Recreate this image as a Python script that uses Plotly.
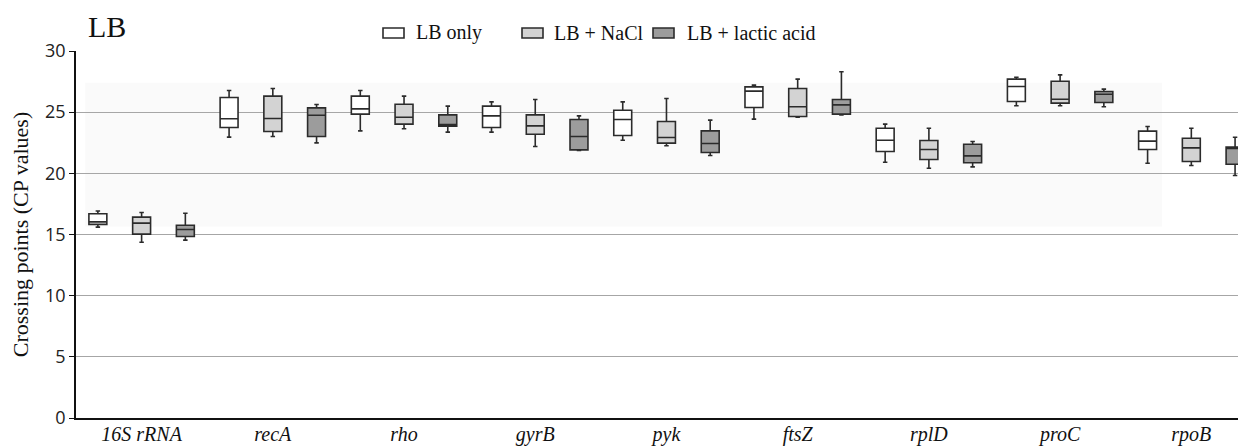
import plotly.graph_objects as go

categories = ["16S rRNA", "recA", "rho", "gyrB", "pyk", "ftsZ", "rplD", "proC", "rpoB"]
series_names = ["LB only", "LB + NaCl", "LB + lactic acid"]

lb_low = [15.6, 22.96, 23.47, 23.37, 22.71, 24.43, 20.91, 25.52, 20.83]
lb_q1 = [15.83, 23.75, 24.84, 23.75, 23.09, 25.38, 21.78, 25.87, 21.95]
lb_med = [16.03, 24.46, 25.27, 24.70, 24.40, 26.72, 22.71, 27.10, 22.63]
lb_q3 = [16.70, 26.20, 26.31, 25.49, 25.16, 27.07, 23.69, 27.70, 23.45]
lb_high = [16.92, 26.77, 26.77, 25.84, 25.84, 27.21, 24.02, 27.86, 23.83]

nacl_low = [14.37, 23.01, 23.64, 22.19, 22.25, 24.59, 20.42, 25.52, 20.64]
nacl_q1 = [15.03, 23.42, 24.02, 23.20, 22.47, 24.65, 21.13, 25.74, 20.97]
nacl_med = [15.93, 24.48, 24.59, 23.88, 22.93, 25.44, 21.95, 26.06, 22.08]
nacl_q3 = [16.42, 26.31, 25.65, 24.78, 24.24, 26.93, 22.68, 27.53, 22.87]
nacl_high = [16.80, 26.93, 26.31, 26.04, 26.12, 27.70, 23.69, 28.05, 23.69]

lac_low = [14.54, 22.49, 23.37, 21.87, 21.46, 24.78, 20.53, 25.44, 19.82]
lac_q1 = [14.84, 23.01, 23.85, 21.92, 21.70, 24.84, 20.86, 25.79, 20.74]
lac_med = [15.41, 24.75, 23.98, 23.01, 22.44, 25.60, 21.43, 26.47, 22.03]
lac_q3 = [15.76, 25.35, 24.78, 24.40, 23.47, 26.04, 22.38, 26.69, 22.15]
lac_high = [16.74, 25.63, 25.49, 24.70, 24.35, 28.30, 22.60, 26.88, 22.95]

fills = ["#ffffff", "#d3d3d3", "#9c9c9c"]
stats = [
    (lb_low, lb_q1, lb_med, lb_q3, lb_high),
    (nacl_low, nacl_q1, nacl_med, nacl_q3, nacl_high),
    (lac_low, lac_q1, lac_med, lac_q3, lac_high),
]

fig = go.Figure()
for k, (name, fill, (lo, q1, med, q3, hi)) in enumerate(zip(series_names, fills, stats)):
    xs = [3 * i + k for i in range(len(categories))]
    fig.add_trace(go.Box(
        name=name, x=xs, lowerfence=lo, q1=q1, median=med, q3=q3, upperfence=hi,
        fillcolor=fill, line=dict(color="#2b2b2b", width=1.6),
        width=0.41, whiskerwidth=0.25, boxpoints=False, showlegend=False,
        hoverinfo="skip",
    ))

# subtle shaded plot background panel
fig.add_shape(type="rect", xref="x", yref="y", x0=-0.29, x1=24.33, y0=15.65, y1=27.4,
              fillcolor="#fafafa", line=dict(width=0), layer="below")

# page offset of the figure (default body margin of the html page)
OFF = 8
# plot area in page pixels
W, H, L, T = 1170.0, 367.0, 76.0, 51.0
def px(xp):
    return (xp - L) / W
def py(yp):
    return (T + H - yp) / H

legend_items = [(383, 414), (522, 552), (653, 685)]
for (ix, tx), name, fill in zip(legend_items, series_names, fills):
    fig.add_shape(type="rect", xref="paper", yref="paper",
                  x0=px(ix), x1=px(ix + 21), y0=py(38), y1=py(28),
                  fillcolor=fill, line=dict(color="#2b2b2b", width=1.6))
    fig.add_annotation(xref="paper", yref="paper", x=px(tx), y=py(33),
                       xanchor="left", yanchor="middle", showarrow=False,
                       text=name, font=dict(family="Liberation Serif", size=20, color="#111"))

fig.add_annotation(xref="paper", yref="paper", x=px(86), y=py(27),
                   xanchor="left", yanchor="middle", showarrow=False, text="LB",
                   font=dict(family="Liberation Serif", size=30, color="#111"))

fig.update_layout(
    width=1246 - OFF, height=446 - OFF,
    margin=dict(l=int(L) - OFF, r=0, t=int(T) - OFF, b=28, pad=0),
    plot_bgcolor="white", paper_bgcolor="white",
    showlegend=False,
    boxmode="overlay",
)
fig.update_xaxes(
    range=[-0.5, 26.25], automargin=False,
    tickvals=[3 * i + 1 for i in range(len(categories))],
    ticktext=["<i>%s</i>" % c for c in categories],
    tickfont=dict(family="Liberation Serif", size=20, color="#111"),
    showgrid=False, zeroline=False, showline=True, linecolor="#111", linewidth=1.5,
    ticks="", ticklabelstandoff=-3,
)
fig.update_yaxes(
    range=[0, 30], tickvals=[0, 5, 10, 15, 20, 25, 30], automargin=False,
    tickfont=dict(family="Open Sans", size=18, color="#222"),
    showgrid=True, gridcolor="#a6a6a6", gridwidth=1,
    zeroline=False, showline=True, linecolor="#111", linewidth=1.5,
    ticks="outside", ticklen=5, tickcolor="#111",
    title=dict(text="Crossing points (CP values)",
               font=dict(family="Liberation Serif", size=22, color="#111"), standoff=10),
)

fig.write_html("out.html")
